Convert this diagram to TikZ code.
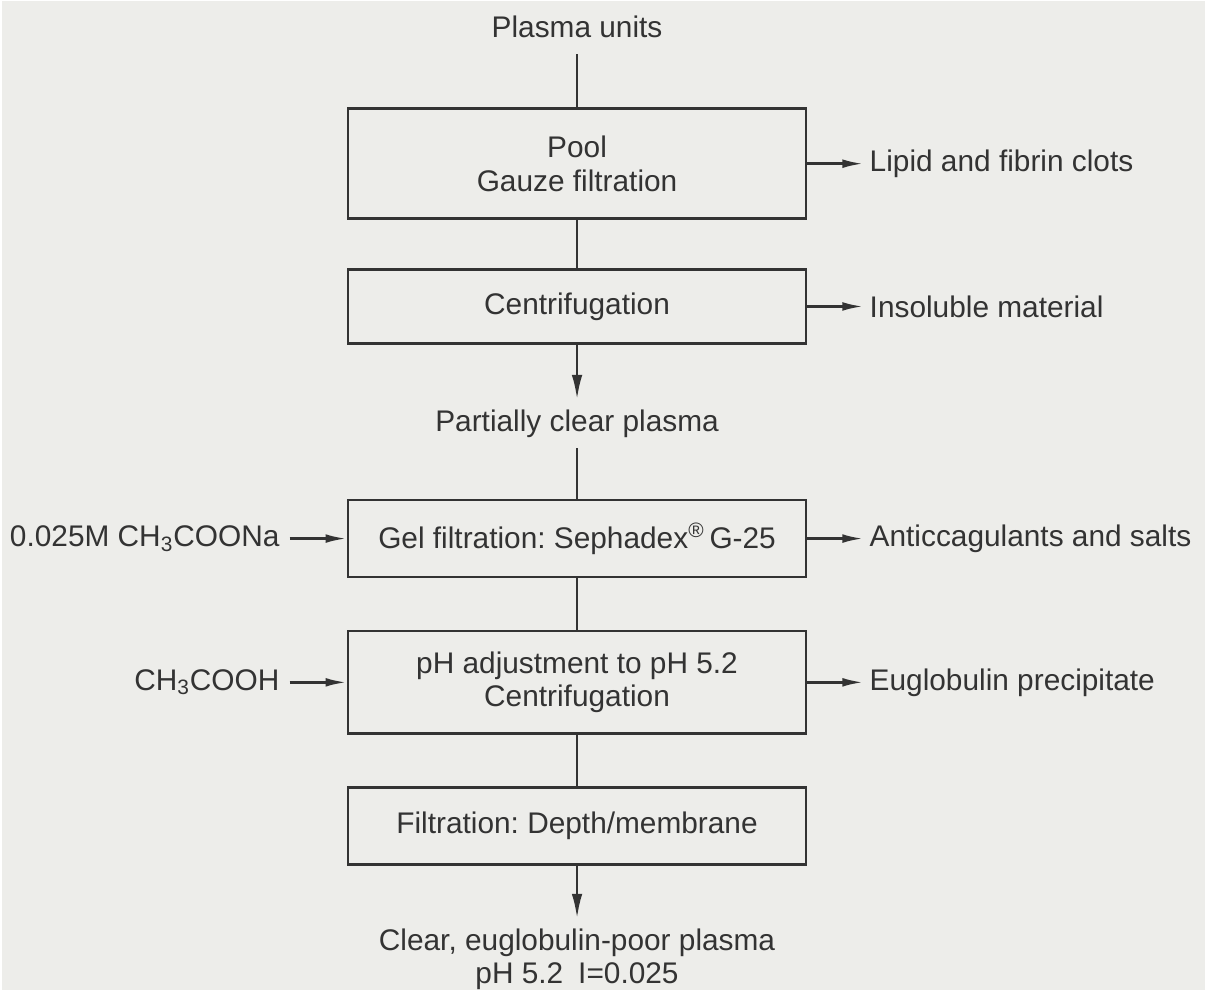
\documentclass[tikz,border=0pt]{standalone}
\usepackage{fontspec}
\setmainfont{Liberation Sans}
\usetikzlibrary{positioning,arrows.meta}
\definecolor{paper}{HTML}{EDEDEA}
\definecolor{ink}{HTML}{333333}
\frenchspacing

\begin{document}
\begin{tikzpicture}[
    font=\fontsize{17}{19}\selectfont,
    every node/.style={text=ink},
    stage/.style={draw=ink, line width=1.5pt, minimum width=9.18cm, align=center, inner sep=0pt},
    flow/.style={draw=ink, line width=1.5pt},
    tip/.style={flow, -{Latex[length=14pt,width=6pt]}},
    sidetip/.style={flow, -{Latex[length=12pt,width=5pt]}},
    outlet/.style={inner xsep=0.12cm, inner ysep=0pt},
    inlet/.style={inner xsep=0.2cm, inner ysep=0pt}]
  \fill[paper] (0,0) rectangle (24.1,-19.82);
  % main column
  \node[inner ysep=0.32cm] (units) at (11.52,-0.52) {Plasma units};
  \node[stage, minimum height=2.2cm] (pool) at (11.52,-3.26) {Pool\\Gauze filtration};
  \node[stage, minimum height=1.48cm] (spin) at (11.52,-6.12) {Centrifugation};
  \node[inner ysep=0.2cm] (partial) at (11.52,-8.47) {Partially clear plasma};
  \node[stage, minimum height=1.54cm] (gel) at (11.52,-10.77) {Gel filtration: Sephadex\textsuperscript{\textregistered}\,G-25};
  \node[stage, minimum height=2.06cm] (adjust) at (11.52,-13.65) {pH adjustment to pH 5.2\\Centrifugation};
  \node[stage, minimum height=1.54cm] (depth) at (11.52,-16.53) {Filtration: Depth/membrane};
  \node[inner ysep=0.2cm, align=center] (clear) at (11.52,-19.2) {Clear, euglobulin-poor plasma\\pH 5.2\enspace I=0.025};
  % side streams
  \node[outlet, right=1.12cm of pool] (lipid) {Lipid and fibrin clots};
  \node[outlet, right=1.12cm of spin] (insoluble) {Insoluble material};
  \node[outlet, right=1.12cm of gel] (salts) {Anticcagulants and salts};
  \node[outlet, right=1.12cm of adjust] (euglob) {Euglobulin precipitate};
  \node[inlet, left=1.14cm of gel] (acetate) {0.025M CH\textsubscript{3}COONa};
  \node[inlet, left=1.14cm of adjust] (acetic) {CH\textsubscript{3}COOH};
  % connectors
  \draw[flow] (units) -- (pool);
  \draw[flow] (pool) -- (spin);
  \draw[tip] (spin) -- (partial);
  \draw[flow] (partial) -- (gel);
  \draw[flow] (gel) -- (adjust);
  \draw[flow] (adjust) -- (depth);
  \draw[tip] (depth) -- (clear);
  \foreach \a/\b in {pool/lipid, spin/insoluble, gel/salts, adjust/euglob}
    \draw[sidetip] (\a.east) -- (\b.west);
  \draw[sidetip] (acetate.east) -- (gel.west);
  \draw[sidetip] (acetic.east) -- (adjust.west);
\end{tikzpicture}
\end{document}
